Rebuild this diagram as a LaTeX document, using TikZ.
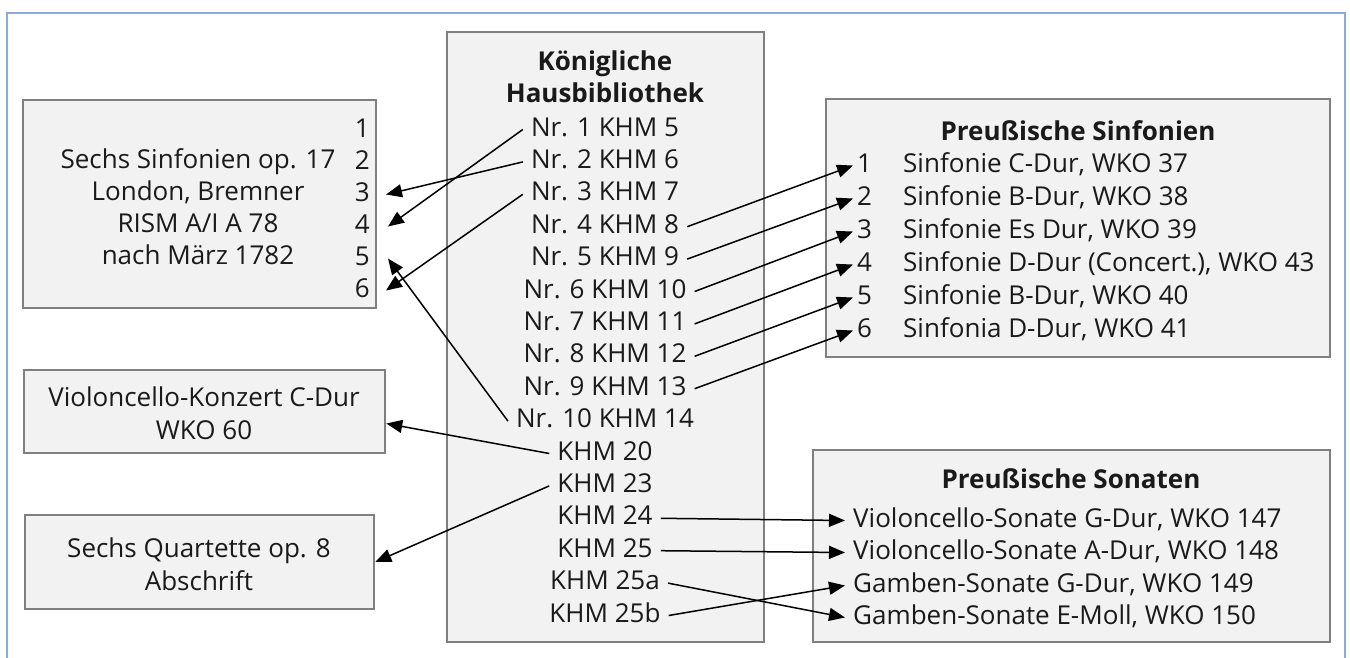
\documentclass[tikz,border=0pt]{standalone}
\usepackage{fontspec}
\setmainfont{Open Sans}
\usetikzlibrary{arrows.meta}
\definecolor{boxfill}{HTML}{F2F2F2}
\definecolor{boxline}{HTML}{7F7F7F}
\definecolor{frameblue}{HTML}{8EAADB}
\definecolor{txtcol}{HTML}{1A1A1A}
\begin{document}
\begin{tikzpicture}[x=1pt,y=-1pt,
  box/.style={draw=boxline, fill=boxfill, line width=2.5pt, rectangle, inner sep=0pt},
  txt/.style={font=\fontsize{26}{31}\selectfont, text=txtcol, inner xsep=8pt, inner ysep=2pt, text height=19pt, text depth=6pt, yshift=-2.5pt},
  num/.style={txt, inner xsep=4pt},
  ttl/.style={txt, font=\fontsize{26}{31}\selectfont\bfseries},
  arr/.style={-{Triangle[length=16pt,width=13pt]}, line width=1.5pt, black}
]
\useasboundingbox (0,0) rectangle (1350,657);
\draw[frameblue, line width=2pt] (7,680) -- (7,13) -- (1345,13) -- (1345,680);

% boxes
\node[box, minimum width=353pt, minimum height=208pt] (L1) at (199.5,204) {};
\node[box, minimum width=317pt, minimum height=610pt] (C) at (605.5,337) {};
\node[box, minimum width=504pt, minimum height=258pt] (R1) at (1078,228) {};
\node[box, minimum width=361pt, minimum height=83pt] (vk) at (204.5,411.5) {};
\node[box, minimum width=349pt, minimum height=94pt] (sq) at (199.5,562) {};
\node[box, minimum width=517pt, minimum height=192pt] (R2) at (1071.5,546) {};

% left box 1
\node[txt] (l1a) at (198,159) {Sechs Sinfonien op. 17};
\node[txt] (l1b) at (198,191) {London, Bremner};
\node[txt] (l1c) at (198,223) {RISM A/I A 78};
\node[txt] (l1d) at (198,255) {nach März 1782};
\foreach \i/\y in {1/128,2/160,3/192,4/224,5/256,6/288}
  \node[num, anchor=east] (ln\i) at (374,\y) {\i};

% left box 2, 3
\node[txt] (vka) at (204,397) {Violoncello-Konzert C-Dur};
\node[txt] (vkb) at (204,430) {WKO 60};
\node[txt] (sqa) at (199,548) {Sechs Quartette op. 8};
\node[txt] (sqb) at (199,581) {Abschrift};

% center box
\node[ttl] (ct1) at (605,61) {Königliche};
\node[ttl] (ct2) at (605,93) {Hausbibliothek};
\foreach \i/\t [count=\k from 0] in {n1/{Nr. 1 KHM 5},n2/{Nr. 2 KHM 6},n3/{Nr. 3 KHM 7},n4/{Nr. 4 KHM 8},n5/{Nr. 5 KHM 9},n6/{Nr. 6 KHM 10},n7/{Nr. 7 KHM 11},n8/{Nr. 8 KHM 12},n9/{Nr. 9 KHM 13},n10/{Nr. 10 KHM 14},k20/{KHM 20},k23/{KHM 23},k24/{KHM 24},k25/{KHM 25},k25a/{KHM 25a},k25b/{KHM 25b}}
  \node[txt] (\i) at (605,127+32.4*\k) {\t};

% right box 1
\node[ttl] (r1t) at (1078,131) {Preußische Sinfonien};
\foreach \i/\y/\t in {1/163/{Sinfonie C-Dur, WKO 37},2/196/{Sinfonie B-Dur, WKO 38},3/229/{Sinfonie Es Dur, WKO 39},4/262/{Sinfonie D-Dur (Concert.), WKO 43},5/295/{Sinfonie B-Dur, WKO 40},6/328/{Sinfonia D-Dur, WKO 41}}{
  \node[num, anchor=west] (rn\i) at (853,\y) {\i};
  \node[txt, anchor=west, inner xsep=0pt] (rt\i) at (903,\y) {\t};
}

% right box 2
\node[ttl] (r2t) at (1071,479) {Preußische Sonaten};
\node[txt, anchor=west] (s1) at (845,518) {Violoncello-Sonate G-Dur, WKO 147};
\node[txt, anchor=west] (s2) at (845,550) {Violoncello-Sonate A-Dur, WKO 148};
\node[txt, anchor=west] (s3) at (845,583) {Gamben-Sonate G-Dur, WKO 149};
\node[txt, anchor=west] (s4) at (845,615) {Gamben-Sonate E-Moll, WKO 150};

% arrows to left
\draw[arr] (n1.west) -- ([xshift=14pt]ln4.east);
\draw[arr] (n2.west) -- ([xshift=12pt]ln3.east);
\draw[arr] (n3.west) -- ([xshift=12pt]ln6.east);
\draw[arr] (n10.west) -- ([xshift=14pt]ln5.east);
\draw[arr] (k20.west) -- ([yshift=-12pt]vk.east);
\draw[arr] (k23.west) -- (sq.east);

% arrows to right
\foreach \a/\b in {n4/1,n5/2,n6/3,n7/4,n8/5,n9/6}
  \draw[arr] (\a.east) -- (rn\b.west);
\draw[arr] (k24.east) -- (s1.west);
\draw[arr] (k25.east) -- (s2.west);
\draw[arr] (k25a.east) -- (s4.west);
\draw[arr] (k25b.east) -- (s3.west);
\end{tikzpicture}
\end{document}
